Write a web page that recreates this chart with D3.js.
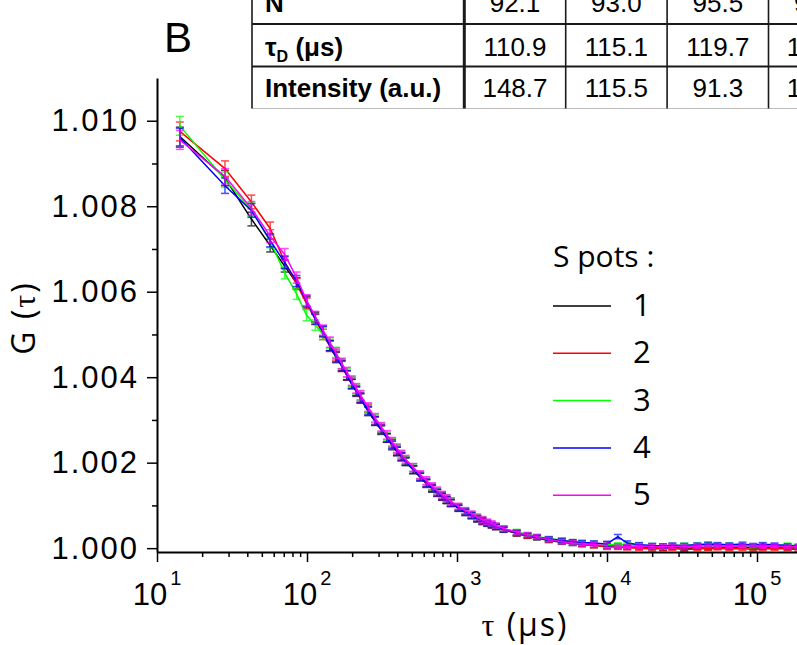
<!DOCTYPE html>
<html>
<head>
<meta charset="utf-8">
<script src="https://d3js.org/d3.v7.min.js"></script>
<style>
  body { margin: 0; background: #fff; }
  svg { display: block; }
</style>
</head>
<body>
<svg id="chart"></svg>
<script>
// lag times (µs), multi-tau spacing
const tau = [
  14.2, 28.4, 42.6, 56.8, 71.0, 85.2, 99.4, 113.6, 127.8, 142.0, 156.2, 170.4, 184.6, 198.8, 213.0, 227.2,
  255.6, 284.0, 312.4, 340.8, 369.2, 397.6, 426.0, 454.4,
  511, 568, 625, 682, 738, 795, 852, 909,
  1022, 1136, 1250, 1363, 1477, 1590, 1704, 1818,
  2045, 2499, 2954, 3408,
  4090, 4998, 5907, 6816,
  8179, 9997, 11814, 13632,
  16358, 19994, 23629, 27264,
  32717, 39987, 47258, 54528,
  65434, 79974, 94515, 109056,
  130867, 159949, 189030
];

const spot1 = [
  1.00963, 1.00866, 1.00770, 1.00708, 1.00660, 1.00620, 1.00575, 1.00540, 1.00508, 1.00474, 1.00446, 1.00428, 1.00404, 1.00384, 1.00366, 1.00350,
  1.00320, 1.00297, 1.00276, 1.00258, 1.00240, 1.00226, 1.00213, 1.00202,
  1.00183, 1.00166, 1.00151, 1.00139, 1.00129, 1.00120, 1.00112, 1.00105,
  1.00093, 1.00083, 1.00076, 1.00068, 1.00062, 1.00057, 1.00053, 1.00049,
  1.00043, 1.00034, 1.00028, 1.00024,
  1.00018, 1.00014, 1.00011, 1.00009,
  1.00006, 1.00005, 1.00004, 1.00002,
  1.00003, 1.00001, 1.00000, 1.00002,
  0.99999, 1.00001, 1.00000, 1.00002,
  1.00001, 1.00003, 1.00000, 1.00001,
  1.00002, 1.00000, 1.00001
];

const spot2 = [
  1.00975, 1.00888, 1.00810, 1.00748, 1.00670, 1.00618, 1.00572, 1.00535, 1.00500, 1.00472, 1.00452, 1.00425, 1.00404, 1.00388, 1.00368, 1.00352,
  1.00326, 1.00298, 1.00280, 1.00258, 1.00245, 1.00230, 1.00214, 1.00204,
  1.00184, 1.00170, 1.00152, 1.00142, 1.00130, 1.00121, 1.00113, 1.00106,
  1.00096, 1.00084, 1.00078, 1.00070, 1.00063, 1.00060, 1.00054, 1.00050,
  1.00045, 1.00035, 1.00028, 1.00026,
  1.00020, 1.00016, 1.00012, 1.00008,
  1.00006, 1.00003, 1.00002, 1.00001,
  1.00000, 0.99998, 0.99999, 1.00000,
  0.99997, 0.99998, 0.99999, 1.00000,
  0.99998, 0.99999, 0.99997, 0.99998,
  0.99999, 0.99998, 0.99997
];

const spot3 = [
  1.00988, 1.00862, 1.00792, 1.00718, 1.00644, 1.00595, 1.00545, 1.00522, 1.00500, 1.00480, 1.00458, 1.00432, 1.00410, 1.00390, 1.00372, 1.00356,
  1.00328, 1.00302, 1.00282, 1.00262, 1.00247, 1.00232, 1.00218, 1.00206,
  1.00188, 1.00170, 1.00156, 1.00143, 1.00133, 1.00124, 1.00116, 1.00108,
  1.00097, 1.00087, 1.00078, 1.00071, 1.00066, 1.00060, 1.00056, 1.00052,
  1.00046, 1.00038, 1.00032, 1.00027,
  1.00022, 1.00019, 1.00015, 1.00013,
  1.00011, 1.00009, 1.00008, 1.00009,
  1.00007, 1.00006, 1.00005, 1.00006,
  1.00007, 1.00008, 1.00009, 1.00007,
  1.00008, 1.00006, 1.00005, 1.00007,
  1.00006, 1.00008, 1.00005
];

const spot4 = [
  1.00960, 1.00848, 1.00790, 1.00720, 1.00668, 1.00625, 1.00578, 1.00536, 1.00506, 1.00474, 1.00448, 1.00426, 1.00405, 1.00384, 1.00368, 1.00352,
  1.00322, 1.00298, 1.00278, 1.00258, 1.00243, 1.00227, 1.00215, 1.00203,
  1.00184, 1.00167, 1.00153, 1.00140, 1.00130, 1.00121, 1.00113, 1.00106,
  1.00094, 1.00085, 1.00076, 1.00069, 1.00064, 1.00058, 1.00054, 1.00050,
  1.00044, 1.00036, 1.00030, 1.00026,
  1.00022, 1.00018, 1.00015, 1.00013,
  1.00012, 1.00010, 1.00027, 1.00012,
  1.00008, 1.00006, 1.00005, 1.00007,
  1.00006, 1.00008, 1.00010, 1.00009,
  1.00008, 1.00010, 1.00007, 1.00009,
  1.00008, 1.00006, 1.00005
];

const spot5 = [
  1.00955, 1.00870, 1.00795, 1.00730, 1.00687, 1.00633, 1.00580, 1.00542, 1.00510, 1.00482, 1.00456, 1.00432, 1.00412, 1.00392, 1.00374, 1.00358,
  1.00330, 1.00305, 1.00284, 1.00265, 1.00249, 1.00234, 1.00220, 1.00208,
  1.00189, 1.00172, 1.00158, 1.00145, 1.00135, 1.00125, 1.00117, 1.00110,
  1.00098, 1.00088, 1.00080, 1.00073, 1.00067, 1.00062, 1.00058, 1.00053,
  1.00046, 1.00037, 1.00031, 1.00027,
  1.00020, 1.00015, 1.00012, 1.00010,
  1.00008, 1.00006, 1.00005, 1.00004,
  1.00005, 1.00004, 1.00003, 1.00004,
  1.00005, 1.00004, 1.00006, 1.00005,
  1.00004, 1.00005, 1.00006, 1.00004,
  1.00005, 1.00003, 1.00004
];

// error bar half-heights
const errG = [
  0.00022, 0.00018, 0.00016, 0.00015, 0.00014, 0.00013, 0.00013, 0.00012, 0.00012, 0.00012, 0.00012, 0.00012, 0.00011, 0.00011, 0.00011, 0.00011,
  0.00010, 0.00010, 0.00010, 0.00010, 0.00010, 0.00010, 0.00009, 0.00009,
  0.00009, 0.00009, 0.00009, 0.00008, 0.00008, 0.00008, 0.00008, 0.00008,
  0.00007, 0.00007, 0.00007, 0.00007, 0.00007, 0.00006, 0.00006, 0.00006,
  0.00006, 0.00006, 0.00005, 0.00005,
  0.00005, 0.00005, 0.00005, 0.00005,
  0.00005, 0.00006, 0.00005, 0.00005,
  0.00005, 0.00005, 0.00005, 0.00005,
  0.00005, 0.00004, 0.00004, 0.00004,
  0.00004, 0.00004, 0.00004, 0.00004,
  0.00004, 0.00004, 0.00004
];

const spotNames = ['1', '2', '3', '4', '5'];
const spotColors = ['#000000', '#ff0000', '#00ff00', '#0000ff', '#ff00ff'];

const yTicks = [1.000, 1.002, 1.004, 1.006, 1.008, 1.010];
const yMinor = [1.001, 1.003, 1.005, 1.007, 1.009];
const xTicks = [10, 100, 1000, 10000, 100000];
const xExponents = ['1', '2', '3', '4', '5'];

// table in the top right corner
const tableRows = ['N', 'τD (μs)', 'Intensity (a.u.)'];
const tableN = ['92.1', '93.0', '95.5', '97.4', '98.2'];
const tableTauD = ['110.9', '115.1', '119.7', '121.8', '118.4'];
const tableIntensity = ['148.7', '115.5', '91.3', '108.2', '102.6'];

class FcsChart {

  constructor(config) {
    this.config = {
      parent: config.parent,
      width: config.width || 797,
      height: config.height || 645,
      margin: config.margin || { top: 78, right: 0, bottom: 93, left: 157 }
    };
    this.data = [spot1, spot2, spot3, spot4, spot5].map((s, i) => ({
      name: spotNames[i],
      color: spotColors[i],
      values: s.map((g, j) => ({ t: tau[j], g: g, e: errG[j] }))
    }));
    this.init();
  }

  init() {
    let self = this;

    self.svg = d3.select(self.config.parent)
      .attr('width', self.config.width)
      .attr('height', self.config.height)
      .style('font-family', "'Open Sans', sans-serif");

    self.inner_width = self.config.width - self.config.margin.left - self.config.margin.right;
    self.inner_height = self.config.height - self.config.margin.top - self.config.margin.bottom;

    self.chart = self.svg.append('g')
      .attr('transform', `translate(${self.config.margin.left},${self.config.margin.top})`);

    self.xscale = d3.scaleLog()
      .domain([10, Math.pow(10, 5.2667)])
      .range([0, self.inner_width]);

    self.yscale = d3.scaleLinear()
      .domain([0.99991, 1.011])
      .range([self.inner_height, 0]);

    self.render();
  }

  render() {
    let self = this;

    // minor ticks x: 2..9 in each decade
    const xMinor = [];
    xTicks.forEach(d => {
      for (let k = 2; k <= 9; k++) {
        if (d * k <= self.xscale.domain()[1]) xMinor.push(d * k);
      }
    });

    // data
    const line = d3.line()
      .x(d => self.xscale(d.t))
      .y(d => self.yscale(d.g));

    self.data.forEach(s => {
      const g = self.chart.append('g');
      g.append('path')
        .datum(s.values)
        .attr('fill', 'none')
        .attr('stroke', s.color)
        .attr('stroke-width', 1.5)
        .attr('d', line);

      const bars = g.selectAll('g.err')
        .data(s.values)
        .join('g')
        .attr('class', 'err')
        .attr('stroke', s.color)
        .attr('stroke-width', 1.5)
        .attr('opacity', 0.7);
      bars.append('line')
        .attr('x1', d => self.xscale(d.t))
        .attr('x2', d => self.xscale(d.t))
        .attr('y1', d => self.yscale(d.g - d.e))
        .attr('y2', d => self.yscale(d.g + d.e));
      bars.append('line')
        .attr('x1', d => self.xscale(d.t) - 4)
        .attr('x2', d => self.xscale(d.t) + 4)
        .attr('y1', d => self.yscale(d.g + d.e))
        .attr('y2', d => self.yscale(d.g + d.e));
      bars.append('line')
        .attr('x1', d => self.xscale(d.t) - 4)
        .attr('x2', d => self.xscale(d.t) + 4)
        .attr('y1', d => self.yscale(d.g - d.e))
        .attr('y2', d => self.yscale(d.g - d.e));
    });

    // y axis
    const yaxis_group = self.chart.append('g')
      .call(d3.axisLeft(self.yscale)
        .tickValues(yTicks)
        .tickSize(10)
        .tickSizeOuter(0)
        .tickPadding(8)
        .tickFormat(d3.format('.3f')));
    yaxis_group.selectAll('text')
      .style('font-size', '31px')
      .style('letter-spacing', '2px')
      .attr('fill', '#000');
    yaxis_group.append('g')
      .call(d3.axisLeft(self.yscale).tickValues(yMinor).tickSize(5).tickFormat(''))
      .select('.domain').remove();

    // x axis
    const xaxis_group = self.chart.append('g')
      .attr('transform', `translate(0,${self.inner_height})`)
      .call(d3.axisBottom(self.xscale)
        .tickValues(xTicks)
        .tickSize(10)
        .tickSizeOuter(0)
        .tickFormat(''));
    xaxis_group.append('g')
      .call(d3.axisBottom(self.xscale).tickValues(xMinor).tickSize(5).tickFormat(''))
      .select('.domain').remove();

    const xlabels = xaxis_group.selectAll('text.xlab')
      .data(xTicks)
      .join('text')
      .attr('class', 'xlab')
      .attr('x', d => self.xscale(d))
      .attr('y', 53)
      .attr('text-anchor', 'middle')
      .attr('fill', '#000')
      .style('font-size', '31px');
    xlabels.append('tspan').text('10');
    xlabels.append('tspan')
      .attr('dy', -20)
      .attr('dx', 3)
      .style('font-size', '20px')
      .text((d, i) => xExponents[i]);

    self.chart.selectAll('.domain').attr('stroke-width', 2);
    self.chart.selectAll('.tick line').attr('stroke-width', 1.5);

    // axis titles
    const ytitle = self.svg.append('text')
      .attr('transform', 'translate(35,318) rotate(-90)')
      .attr('text-anchor', 'middle')
      .style('font-size', '32px')
      .style('letter-spacing', '2px');
    ytitle.append('tspan').text('G (');
    ytitle.append('tspan').style('font-family', "'Liberation Serif', serif").text('τ');
    ytitle.append('tspan').text(')');

    const xtitle = self.svg.append('text')
      .attr('x', 525)
      .attr('y', 636)
      .attr('text-anchor', 'middle')
      .style('font-size', '32px')
      .style('letter-spacing', '2px');
    xtitle.append('tspan').style('font-family', "'Liberation Serif', serif").text('τ');
    xtitle.append('tspan').text(' (μs)');

    // legend
    const legend = self.svg.append('g').attr('transform', 'translate(553,267)');
    legend.append('text')
      .attr('x', 0)
      .attr('y', 0)
      .style('font-size', '30px')
      .text('S pots :');
    const items = legend.selectAll('g.item')
      .data(self.data)
      .join('g')
      .attr('class', 'item')
      .attr('transform', (d, i) => `translate(0,${39 + i * 47.3})`);
    items.append('line')
      .attr('x1', 0).attr('x2', 58)
      .attr('stroke', d => d.color)
      .attr('stroke-width', 1.5);
    items.append('text')
      .attr('x', 80)
      .attr('y', 10)
      .style('font-size', '31px')
      .text(d => d.name);

    self.renderTable();
  }

  renderTable() {
    let self = this;
    const t = self.svg.append('g')
      .style('font-family', "'Liberation Sans', Arial, sans-serif");

    // panel letter
    t.append('text')
      .attr('x', 164)
      .attr('y', 52)
      .style('font-size', '42px')
      .text('B');

    const left = 252, split = 464.3, colW = 101.4, right = split + colW * 5;
    const rowLines = [24, 66.5];
    const baselines = [12, 56, 97];
    const rows = [tableN, tableTauD, tableIntensity];

    t.selectAll('line.h')
      .data(rowLines)
      .join('line')
      .attr('x1', left).attr('x2', right)
      .attr('y1', d => d).attr('y2', d => d)
      .attr('stroke', '#1a1a1a')
      .attr('stroke-width', 2);
    t.append('line')
      .attr('x1', left).attr('x2', right)
      .attr('y1', 108.5).attr('y2', 108.5)
      .attr('stroke', '#bbb')
      .attr('stroke-width', 1);

    const vlines = [left, split];
    for (let i = 1; i <= 5; i++) vlines.push(split + colW * i);
    t.selectAll('line.v')
      .data(vlines)
      .join('line')
      .attr('x1', d => d).attr('x2', d => d)
      .attr('y1', -2).attr('y2', 108.5)
      .attr('stroke', '#1a1a1a')
      .attr('stroke-width', (d, i) => i === 1 ? 3 : 1.6);

    // header column
    t.append('text').attr('x', 265).attr('y', baselines[0])
      .style('font-size', '26px').style('font-weight', 'bold')
      .text(tableRows[0]);
    const tauD = t.append('text').attr('x', 265).attr('y', baselines[1])
      .style('font-size', '26px').style('font-weight', 'bold');
    tauD.append('tspan').text('τ');
    tauD.append('tspan').attr('dy', 6).style('font-size', '16px').text('D');
    tauD.append('tspan').attr('dy', -6).text(' (μs)');
    t.append('text').attr('x', 265).attr('y', baselines[2])
      .style('font-size', '26px').style('font-weight', 'bold')
      .text(tableRows[2]);

    rows.forEach((r, ri) => {
      t.selectAll(null)
        .data(r)
        .join('text')
        .attr('x', (d, i) => split + colW * (i + 0.5))
        .attr('y', baselines[ri])
        .attr('text-anchor', 'middle')
        .style('font-size', '26px')
        .text(d => d);
    });
  }
}

const chart = new FcsChart({ parent: '#chart' });
</script>
</body>
</html>
